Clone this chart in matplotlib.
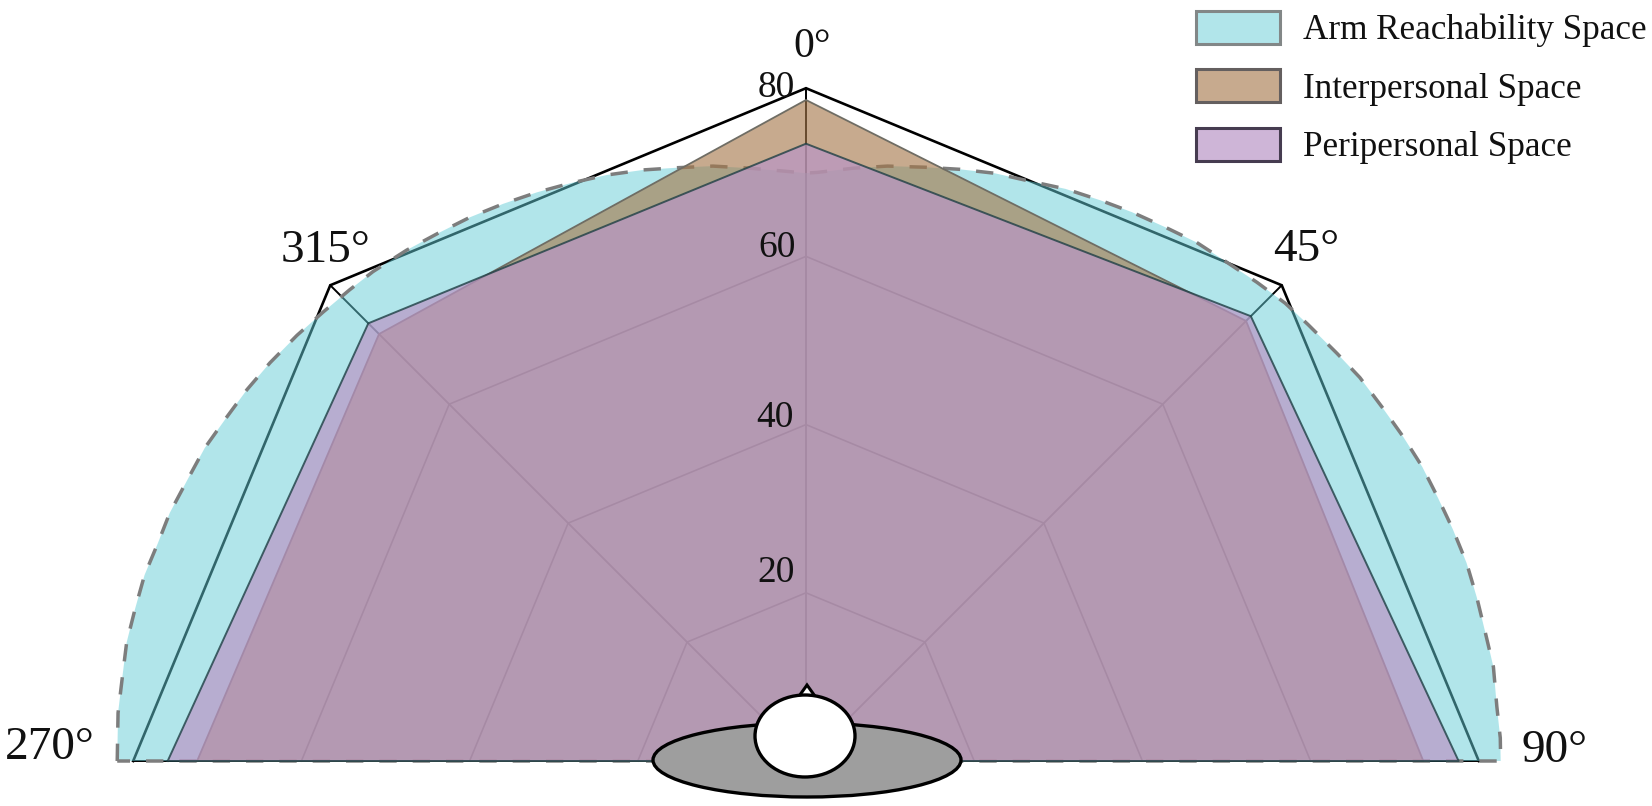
import numpy as np
import matplotlib
matplotlib.use("Agg")
import matplotlib.pyplot as plt
from matplotlib.patches import Ellipse, Polygon, Patch
from matplotlib.transforms import IdentityTransform

plt.rcParams['font.family'] = ['Liberation Serif', 'DejaVu Serif']

# ---- data -------------------------------------------------------------
spoke_angles = [-90, -45, 0, 45, 90]
angle_labels = ['270°', '315°', '0°', '45°', '90°']
ring_values = [20, 40, 60, 80]
ring_labels = ['20', '40', '60', '80']

series_names = ['Arm Reachability Space', 'Interpersonal Space', 'Peripersonal Space']
interpersonal = [72.4, 71.8, 78.6, 74.0, 73.4]
peripersonal = [75.9, 73.6, 73.4, 74.8, 77.6]

arm_angles = [-90, -86.0, -83, -80.1, -77.2, -74.3, -71.4, -68.7, -65.6, -62.5, -59.3, -56.4,
              -53.4, -50.1, -47.1, -44.1, -41.5, -38.0, -34.9, -31.7, -28.5, -25.3, -22.2,
              -18.8, -15.4, -12.3, -8.9, -5.4, -2.2, 0, 1.1, 4.5, 7.8, 11.3, 14.6, 17.8, 21.1,
              24.4, 27.7, 30.7, 33.9, 37.0, 39.5, 43.3, 46.3, 49.0, 52.5, 55.3, 58.5, 61.5,
              64.5, 67.4, 70.3, 73.3, 76.3, 79.2, 82.2, 85.5, 88.1, 90]
arm_values = [81.9, 82.0, 81.9, 82.0, 81.8, 81.7, 81.3, 81.2, 80.8, 80.6, 80.1, 79.8,
              79.4, 78.9, 78.4, 78.0, 77.7, 77.1, 76.5, 76.0, 75.4, 74.8, 74.2,
              73.6, 72.9, 72.2, 71.6, 70.8, 70.2, 69.9, 70.0, 70.7, 71.4, 72.0, 72.7, 73.4, 73.9,
              74.7, 75.3, 75.9, 76.5, 77.2, 77.5, 78.2, 78.8, 79.1, 79.6, 80.1, 80.4, 80.8,
              81.2, 81.4, 81.7, 82.0, 82.1, 82.2, 82.5, 82.4, 82.6, 82.6]

# ---- styles -----------------------------------------------------------
W, H, DPI = 1652, 806, 100
CX, CY = 806, 761            # pixel position of the centre (from top-left)
PX_PER_UNIT = 8.41
RMAX = 85

ARM = (100/255, 205/255, 215/255, 0.50)
INTER = (165/255, 119/255, 73/255, 0.62)
PERI = (186/255, 150/255, 198/255, 0.70)
FS_TICK = 27
FS_ANGLE = [34, 34, 30, 34, 34]
FS_LEG = 25.3

fig = plt.figure(figsize=(W/DPI, H/DPI), dpi=DPI, facecolor='white')
rad_px = RMAX * PX_PER_UNIT
ax = fig.add_axes([(CX-rad_px)/W, ((H-CY)-rad_px)/H, 2*rad_px/W, 2*rad_px/H], projection='polar')
ax.set_theta_zero_location('N')
ax.set_theta_direction(-1)
ax.set_rlim(0, RMAX)
ax.axis('off')
ax.patch.set_alpha(0)

th = np.deg2rad(spoke_angles)

# grid: straight-sided rings and spokes, underneath the translucent fills
for v in ring_values:
    ax.plot(th, [v]*len(th), color='black', lw=1.9 if v == ring_values[-1] else 1.2, zorder=1,
            solid_joinstyle='miter')
for t in th:
    ax.plot([t, t], [0, ring_values[-1]], color='black', lw=1.4, zorder=1)

# series
ta = np.deg2rad(arm_angles)
ax.fill(ta, arm_values, facecolor=ARM, edgecolor='none', zorder=2)
ax.plot(np.r_[ta, ta[0]], np.r_[arm_values, arm_values[0]], color='#7d7d7d', lw=2.5,
        dashes=(5.0, 4.6), zorder=2.1)

ax.fill(th, interpersonal, facecolor=INTER, edgecolor='none', zorder=3)
ax.plot(np.r_[th, th[0]], np.r_[interpersonal, interpersonal[0]], color='#6f6d64', lw=1.3, zorder=3.1)

ax.fill(th, peripersonal, facecolor=PERI, edgecolor='none', zorder=4)
ax.plot(np.r_[th, th[0]], np.r_[peripersonal, peripersonal[0]], color='#1e3f44', alpha=0.8, lw=1.4,
        zorder=4.1)

# ring and angle labels
ring_offsets = [(-30, 20), (-31, 7), (-29, 9), (-30, 0)]
for v, lab, off in zip(ring_values, ring_labels, ring_offsets):
    ax.annotate(lab, (0, v), xytext=off, textcoords='offset pixels', ha='center', va='center',
                fontsize=FS_TICK, color='#111111', zorder=6)
angle_offsets = [(-83, 13), (-5, 35), (6, 41), (24, 36), (76, 10)]
for a, lab, off, fs in zip(th, angle_labels, angle_offsets, FS_ANGLE):
    ax.annotate(lab, (a, ring_values[-1]), xytext=off, textcoords='offset pixels', ha='center',
                va='center', fontsize=fs, color='#111111', zorder=6)

# head pictogram (pixel coordinates, y flipped)
def P(x, y):
    return (x, H - y)

tf = IdentityTransform()
fig.add_artist(Ellipse(P(807, 760), 308, 74, facecolor='#9e9e9e', edgecolor='black', lw=2.4,
                       transform=tf, zorder=5))
fig.add_artist(Polygon([P(797, 699), P(807, 685), P(817, 699)], closed=True, facecolor='white',
                       edgecolor='black', lw=2.2, transform=tf, zorder=5.1))
fig.add_artist(Ellipse(P(805, 736), 100, 82, facecolor='white', edgecolor='black', lw=2.4,
                       transform=tf, zorder=5.2))

# legend
handles = [Patch(facecolor=ARM, edgecolor='#828787', lw=2.2),
           Patch(facecolor=INTER, edgecolor='#645f5f', lw=2.2),
           Patch(facecolor=PERI, edgecolor='#463c50', lw=2.2)]
fig.legend(handles, series_names, loc='upper left', bbox_to_anchor=(1196/W, 1-11/H), frameon=False,
           fontsize=FS_LEG, borderpad=0, borderaxespad=0, handlelength=2.38, handleheight=1.07,
           handletextpad=0.66, labelspacing=0.62, labelcolor='#111111')

fig.savefig('out.png', dpi=DPI, facecolor='white')
